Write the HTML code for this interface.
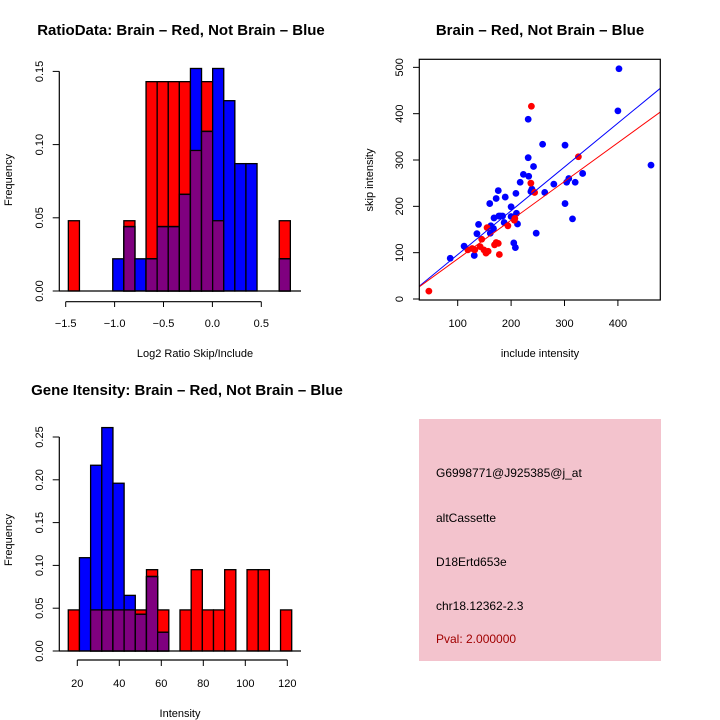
<!DOCTYPE html>
<html><head><meta charset="utf-8"><style>
html,body{margin:0;padding:0;background:#fff;}
svg{display:block;font-family:"Liberation Sans",sans-serif;}
</style></head><body>
<svg id="s" width="720" height="720" xmlns="http://www.w3.org/2000/svg"></svg>
<script>
// ---------- data ----------
const ratioRed = [0.048,0,0,0,0,0.048,0,0.143,0.143,0.143,0.143,0.096,0.143,0.048,0,0,0,0,0,0.048];
const ratioBlue = [0,0,0,0,0.022,0.044,0.022,0.022,0.044,0.044,0.066,0.152,0.109,0.152,0.130,0.087,0.087,0,0,0.022];
const ratioXTicks = [-1.5,-1.0,-0.5,0.0,0.5];
const ratioXLabels = ["\u22121.5","\u22121.0","\u22120.5","0.0","0.5"];
const ratioYTicks = [0,0.05,0.10,0.15];
const ratioYLabels = ["0.00","0.05","0.10","0.15"];

const intRed = [0.048,0,0.048,0.048,0.048,0.048,0.048,0.095,0.048,0,0.048,0.095,0.048,0.048,0.095,0,0.095,0.095,0,0.048];
const intBlue = [0,0.109,0.217,0.261,0.196,0.065,0.043,0.087,0.022,0,0,0,0,0,0,0,0,0,0,0];
const intXTicks = [20,40,60,80,100,120];
const intYTicks = [0,0.05,0.10,0.15,0.20,0.25];
const intYLabels = ["0.00","0.05","0.10","0.15","0.20","0.25"];

const blueX = [86,112,131,136,139,160,161,162,167,168,172,176,177,180,184,187,189,200,200,205,208,209,210,212,217,223,232,232,233,237,239,242,247,259,263,280,301,301,304,308,315,320,334,400,402,462];
const blueY = [88,114,94,141,161,206,142,158,152,175,217,234,179,179,179,165,220,199,178,121,111,228,185,162,252,269,388,305,265,232,237,286,142,334,230,248,206,332,252,260,173,252,271,406,497,289];
const redX = [46,119,127,132,142,145,149,153,155,157,169,172,176,178,194,206,207,237,244,238,326];
const redY = [17,106,109,106,113,129,106,99,154,103,117,122,120,96,158,170,174,250,230,416,307];
const blueFit = [1.2,0.946];
const redFit = [2.9,0.836];
const scXTicks = [100,200,300,400];
const scYTicks = [0,100,200,300,400,500];

const S = document.getElementById('s');
const NS = 'http://www.w3.org/2000/svg';
function mk(tag, attrs, parent){const e=document.createElementNS(NS,tag);for(const k in attrs)e.setAttribute(k,attrs[k]);(parent||S).appendChild(e);return e;}
function txt(x,y,t,size,opts){opts=opts||{};const e=mk('text',{x:x,y:y,'font-size':size,'text-anchor':opts.anchor||'middle',fill:opts.fill||'#000'});if(opts.bold)e.setAttribute('font-weight','bold');if(opts.rot)e.setAttribute('transform','rotate(-90 '+x+' '+y+')');e.textContent=t;return e;}

function hist(g, red, blue, bx0, bw, x0px, pxPerUnit, yBase, pxPerFreq){
  const xs=v=>x0px+(v)*pxPerUnit;
  const ys=v=>yBase-v*pxPerFreq;
  for(let i=0;i<red.length;i++){
    const a=xs(bx0+i*bw), b=xs(bx0+(i+1)*bw);
    const r=red[i], bl=blue[i], m=Math.min(r,bl);
    if(r>0){const e=mk('rect',{x:a,y:ys(r),width:b-a,height:ys(0)-ys(r),fill:'#ff0000',stroke:'#000','stroke-width':1.3},g);
      }
    if(bl>0){const e=mk('rect',{x:a,y:ys(bl),width:b-a,height:ys(0)-ys(bl),fill:'#0000ff',stroke:'#000','stroke-width':1.3},g);
      }
    if(m>0){const e=mk('rect',{x:a,y:ys(m),width:b-a,height:ys(0)-ys(m),fill:'#7f007f',stroke:'#000','stroke-width':1.3},g);
      }
    if(r>bl&&bl>0){mk('line',{x1:a,x2:b,y1:ys(bl),y2:ys(bl),stroke:'#000','stroke-width':1.3},g);}
  }
}

// ---------- panel 1: ratio hist ----------
(function(){
  const g=mk('g',{});
  const x0=65.7+1.5*97.8, ppu=97.8, yb=291, ppf=73.2/0.05;
  const xs=v=>x0+v*ppu, ys=v=>yb-v*ppf;
  hist(g, ratioRed, ratioBlue, -1.473, 0.1135, x0, ppu, yb, ppf);
  mk('line',{x1:59,x2:301,y1:yb,y2:yb,stroke:'#000','stroke-width':1.3},g);
  mk('line',{x1:59.3,x2:59.3,y1:ys(0),y2:ys(0.15),stroke:'#000','stroke-width':1.2},g);
  ratioYTicks.forEach((v,i)=>{mk('line',{x1:52.7,x2:59.3,y1:ys(v),y2:ys(v),stroke:'#000'},g);txt(43,ys(v),ratioYLabels[i],11,{rot:true});});
  mk('line',{x1:xs(-1.5),x2:xs(0.5),y1:301.7,y2:301.7,stroke:'#000','stroke-width':1.2},g);
  ratioXTicks.forEach((v,i)=>{mk('line',{x1:xs(v),x2:xs(v),y1:301.7,y2:307,stroke:'#000'},g);txt(xs(v),327,ratioXLabels[i],11);});
  const t=txt(181,35,'RatioData: Brain \u2013 Red, Not Brain \u2013 Blue',15,{bold:true});
  const xl=txt(195,357,'Log2 Ratio Skip/Include',11);
  const yl=txt(12,180,'Frequency',11,{rot:true});
})();

// ---------- panel 2: scatter ----------
(function(){
  const g=mk('g',{});
  const xs=v=>457.7+(v-100)*0.534, ys=v=>299-v*0.4633;
  const cp=mk('clipPath',{id:'cp'},g);mk('rect',{x:419.3,y:59.3,width:241,height:240.7},cp);
  blueX.forEach((v,i)=>{const c=mk('circle',{cx:xs(v),cy:ys(blueY[i]),r:3.4,fill:'#0000ff'},g);});
  redX.forEach((v,i)=>{const c=mk('circle',{cx:xs(v),cy:ys(redY[i]),r:3.4,fill:'#ff0000'},g);});
  const lx0=28, lx1=480;
  const bl=mk('line',{x1:xs(lx0),y1:ys(blueFit[0]+blueFit[1]*lx0),x2:xs(lx1),y2:ys(blueFit[0]+blueFit[1]*lx1),stroke:'#0000ff','stroke-width':1,'clip-path':'url(#cp)'},g);
  
  const rl=mk('line',{x1:xs(lx0),y1:ys(redFit[0]+redFit[1]*lx0),x2:xs(lx1),y2:ys(redFit[0]+redFit[1]*lx1),stroke:'#ff0000','stroke-width':1,'clip-path':'url(#cp)'},g);
  
  mk('rect',{x:419.3,y:59.3,width:241,height:240.7,fill:'none',stroke:'#000','stroke-width':1.2},g);
  scXTicks.forEach(v=>{mk('line',{x1:xs(v),x2:xs(v),y1:300,y2:306,stroke:'#000'},g);txt(xs(v),327,String(v),11);});
  scYTicks.forEach(v=>{mk('line',{x1:413,x2:419.3,y1:ys(v),y2:ys(v),stroke:'#000'},g);txt(403,ys(v),String(v),11,{rot:true});});
  const t=txt(540,35,'Brain \u2013 Red, Not Brain \u2013 Blue',15,{bold:true});
  const xl=txt(540,357,'include intensity',11);
  const yl=txt(373,180,'skip intensity',11,{rot:true});
})();

// ---------- panel 3: intensity hist ----------
(function(){
  const g=mk('g',{});
  const ppu=2.1, x0=77.3-20*ppu, yb=651, ppf=42.8/0.05;
  const xs=v=>x0+v*ppu, ys=v=>yb-v*ppf;
  hist(g, intRed, intBlue, 15.7, 5.32, x0, ppu, yb, ppf);
  mk('line',{x1:59,x2:301,y1:yb,y2:yb,stroke:'#000','stroke-width':1.3},g);
  mk('line',{x1:59.3,x2:59.3,y1:ys(0),y2:ys(0.25),stroke:'#000','stroke-width':1.2},g);
  intYTicks.forEach((v,i)=>{mk('line',{x1:52.7,x2:59.3,y1:ys(v),y2:ys(v),stroke:'#000'},g);txt(43,ys(v),intYLabels[i],11,{rot:true});});
  mk('line',{x1:xs(20),x2:xs(120),y1:660,y2:660,stroke:'#000','stroke-width':1.2},g);
  intXTicks.forEach(v=>{mk('line',{x1:xs(v),x2:xs(v),y1:660,y2:666,stroke:'#000'},g);txt(xs(v),687,String(v),11);});
  const t=txt(187,395,'Gene Itensity: Brain \u2013 Red, Not Brain \u2013 Blue',15,{bold:true});
  const xl=txt(180,717,'Intensity',11);
  const yl=txt(12,540,'Frequency',11,{rot:true});
})();

// ---------- panel 4: info box ----------
(function(){
  const g=mk('g',{});
  mk('rect',{x:419,y:419,width:242,height:242,fill:'#f3c3cd'},g);
  const lines=[['G6998771@J925385@j_at',477,'#000','gene-id'],['altCassette',522,'#000','event-type'],['D18Ertd653e',566,'#000','gene-name'],['chr18.12362-2.3',610,'#000','location'],['Pval: 2.000000',643,'#a00000','p-value']];
  lines.forEach(l=>{const e=txt(436,l[1],l[0],12,{anchor:'start',fill:l[2]});});
})();
</script>
</body></html>
